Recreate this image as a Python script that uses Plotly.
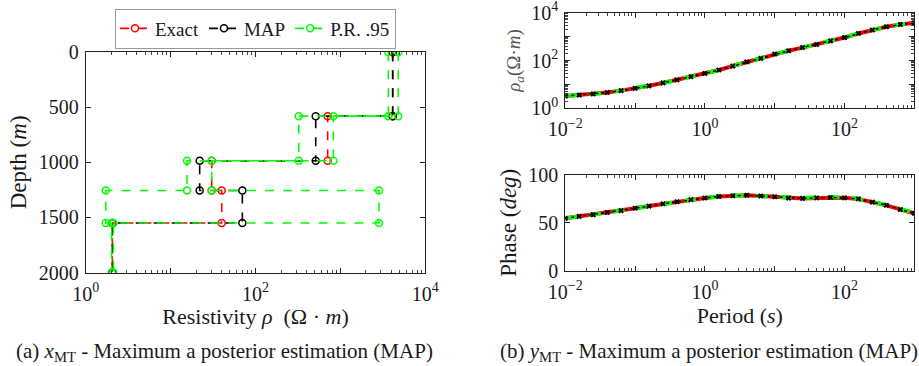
import plotly.graph_objects as go

# ---------------- data: left panel (layered resistivity model) ----------------
depth_bounds = [0, 580, 985, 1255, 1550, 2000]
rho_exact = [4130, 708, 30.5, 40, 2.06]
rho_map = [4130, 512, 22, 70, 2.06]
rho_pr_low = [3670, 323, 15.6, 1.72, 2.02]
rho_pr_high = [4800, 826, 30.5, 2850, 2.12]

# ---------------- data: right panels (MT responses) ----------------
period = [0.01, 0.0158, 0.0251, 0.0398, 0.0631, 0.1, 0.158, 0.251, 0.398, 0.631,
          1, 1.58, 2.51, 3.98, 6.31, 10, 15.8, 25.1, 39.8, 63.1,
          100, 158, 251, 398, 631, 1000]
rhoa_exact = [3.27, 3.55, 3.98, 4.57, 5.50, 6.76, 8.71, 11.5, 15.5, 20.9,
              28.8, 39.8, 58.9, 87.1, 123, 186, 257, 347, 468, 661,
              912, 1349, 1905, 2570, 3236, 3802]
rhoa_map = [3.25, 3.56, 3.97, 4.58, 5.48, 6.78, 8.68, 11.6, 15.4, 21.0,
            28.6, 40.1, 58.5, 87.5, 122, 187, 255, 349, 465, 664,
            905, 1355, 1890, 2580, 3220, 3810]
rhoa_pr = [3.28, 3.54, 3.99, 4.55, 5.52, 6.74, 8.75, 11.4, 15.6, 20.7,
           29.0, 39.5, 59.3, 86.5, 124, 184, 259, 344, 472, 655,
           920, 1340, 1915, 2555, 3250, 3790]
phase_exact = [54.6, 56.5, 58.4, 60.5, 62.7, 65.0, 67.3, 69.6, 71.9, 74.0,
               75.8, 77.2, 78.2, 78.5, 77.9, 76.9, 75.8, 75.3, 75.6, 76.1,
               75.9, 74.6, 71.6, 68.0, 63.9, 59.6]
phase_map = [54.5, 56.6, 58.3, 60.6, 62.6, 65.1, 67.2, 69.7, 71.8, 74.1,
             75.7, 77.3, 78.1, 78.6, 77.8, 77.0, 75.6, 75.4, 75.8, 76.3,
             75.8, 74.8, 71.4, 68.2, 63.7, 59.8]
phase_pr = [54.7, 56.4, 58.5, 60.4, 62.8, 64.9, 67.4, 69.5, 72.0, 73.9,
            75.9, 77.1, 78.3, 78.3, 77.6, 76.5, 75.4, 75.6, 76.6, 77.0,
            76.4, 74.9, 71.9, 68.4, 64.3, 60.2]

FONT = "'Liberation Serif', 'DejaVu Serif', serif"
TXT = "#1a1a1a"
RED, BLACK, GREEN = "#ff0000", "#000000", "#00ff00"


def stairs(vals):
    xs, ys = [], []
    for i, v in enumerate(vals):
        xs += [v, v]
        ys += [depth_bounds[i], depth_bounds[i + 1]]
    return xs, ys


fig = go.Figure()

left_series = [
    ("Exact", rho_exact, RED, True),
    ("MAP", rho_map, BLACK, True),
    ("P.R. .95", rho_pr_low, GREEN, True),
    ("P.R. .95", rho_pr_high, GREEN, False),
]
for name, vals, col, show in left_series:
    xs, ys = stairs(vals)
    fig.add_trace(go.Scatter(
        x=xs, y=ys, mode="lines+markers", name=name, legendgroup=name,
        showlegend=show, xaxis="x", yaxis="y",
        line=dict(color=col, width=1.6, dash="dash"),
        marker=dict(symbol="circle-open", size=7, color=col, line=dict(width=1.5)),
    ))

# right top
fig.add_trace(go.Scatter(x=period, y=rhoa_exact, mode="lines", showlegend=False,
                         xaxis="x2", yaxis="y2", line=dict(color=RED, width=4)))
fig.add_trace(go.Scatter(x=period, y=rhoa_pr, mode="lines", showlegend=False,
                         xaxis="x2", yaxis="y2", line=dict(color=GREEN, width=4, dash="dash")))
fig.add_trace(go.Scatter(x=period, y=rhoa_map, mode="lines+markers", showlegend=False,
                         xaxis="x2", yaxis="y2", line=dict(color=BLACK, width=1.5, dash="dot"),
                         marker=dict(symbol="x", size=5, color=BLACK)))
# right bottom
fig.add_trace(go.Scatter(x=period, y=phase_exact, mode="lines", showlegend=False,
                         xaxis="x3", yaxis="y3", line=dict(color=RED, width=4)))
fig.add_trace(go.Scatter(x=period, y=phase_pr, mode="lines", showlegend=False,
                         xaxis="x3", yaxis="y3", line=dict(color=GREEN, width=4, dash="dash")))
fig.add_trace(go.Scatter(x=period, y=phase_map, mode="lines+markers", showlegend=False,
                         xaxis="x3", yaxis="y3", line=dict(color=BLACK, width=1.5, dash="dot"),
                         marker=dict(symbol="x", size=5, color=BLACK)))

W, H = 919, 366


def px_x(p):
    return p / W


def px_y(p):
    return 1 - p / H


axis_common = dict(
    showline=True, linecolor="#222", linewidth=1, mirror="ticks", automargin=False,
    ticks="inside", ticklen=5, tickcolor="#222", showgrid=False, zeroline=False,
    ticklabeloverflow="allow",
    tickfont=dict(family=FONT, size=20, color=TXT),
)
log_minor = dict(ticks="inside", ticklen=3, tickcolor="#444", showgrid=False, dtick="D1")

fig.update_layout(
    template="none",
    width=W, height=H,
    margin=dict(l=0, r=0, t=0, b=0, autoexpand=False),
    paper_bgcolor="white", plot_bgcolor="white",
    font=dict(family=FONT, size=18, color=TXT),
    legend=dict(orientation="h", x=px_x(255.5), xanchor="center", y=px_y(8.5), yanchor="top",
                bordercolor="#999", borderwidth=1, font=dict(family=FONT, size=19, color=TXT),
                itemwidth=30, tracegroupgap=0, bgcolor="white"),
    xaxis=dict(axis_common, type="log", range=[0, 4], domain=[px_x(85.7), px_x(425.3)],
               anchor="y", tickvals=[1, 10, 100, 1000, 10000],
               ticktext=["10<sup>0</sup>", "", "10<sup>2</sup>", "", "10<sup>4</sup>"],
               minor=log_minor, ticklabelstandoff=3,
               title=dict(text="Resistivity <i>ρ</i>  (Ω · <i>m</i>)",
                          font=dict(family=FONT, size=22, color=TXT), standoff=5)),
    yaxis=dict(axis_common, range=[2000, 0], domain=[px_y(272.5), px_y(52.3)], anchor="x",
               tickvals=[0, 500, 1000, 1500, 2000], ticklabelstandoff=2,
               title=dict(text="Depth (<i>m</i>)", font=dict(family=FONT, size=23, color=TXT),
                          standoff=5)),
    xaxis2=dict(axis_common, type="log", range=[-2, 3], domain=[px_x(565.3), px_x(914.3)],
                anchor="y2", tickvals=[0.01, 0.1, 1, 10, 100, 1000],
                ticktext=["10<sup>−2</sup>", "", "10<sup>0</sup>", "", "10<sup>2</sup>", ""],
                minor=log_minor, ticklabelstandoff=3),
    yaxis2=dict(axis_common, type="log", range=[0, 4], domain=[px_y(108.3), px_y(12.7)],
                anchor="x2", tickvals=[1, 10, 100, 1000, 10000],
                ticktext=["10<sup>0</sup>", "", "10<sup>2</sup>", "", "10<sup>4</sup>"],
                minor=log_minor, ticklabelstandoff=2,
                title=dict(text="<i>ρ<sub>a</sub></i>(Ω·<i>m</i>)",
                           font=dict(family=FONT, size=19, color="#555"), standoff=5)),
    xaxis3=dict(axis_common, type="log", range=[-2, 3], domain=[px_x(565.3), px_x(914.3)],
                anchor="y3", tickvals=[0.01, 0.1, 1, 10, 100, 1000],
                ticktext=["10<sup>−2</sup>", "", "10<sup>0</sup>", "", "10<sup>2</sup>", ""],
                minor=log_minor, ticklabelstandoff=3,
                title=dict(text="Period (<i>s</i>)", font=dict(family=FONT, size=22, color=TXT),
                           standoff=5)),
    yaxis3=dict(axis_common, range=[0, 100], domain=[px_y(270.7), px_y(174.7)], anchor="x3",
                tickvals=[0, 50, 100], ticklabelstandoff=2,
                title=dict(text="Phase (<i>deg</i>)", font=dict(family=FONT, size=23, color=TXT),
                           standoff=5)),
)

fig.add_annotation(text="(a) <i>x</i><sub>MT</sub> - Maximum a posterior estimation (MAP)",
                   x=px_x(224.5), y=px_y(352), xref="paper", yref="paper",
                   xanchor="center", yanchor="middle",
                   showarrow=False, font=dict(family=FONT, size=21, color=TXT))
fig.add_annotation(text="(b) <i>y</i><sub>MT</sub> - Maximum a posterior estimation (MAP)",
                   x=px_x(709), y=px_y(352), xref="paper", yref="paper",
                   xanchor="center", yanchor="middle",
                   showarrow=False, font=dict(family=FONT, size=21, color=TXT))

fig.write_html("out.html")
